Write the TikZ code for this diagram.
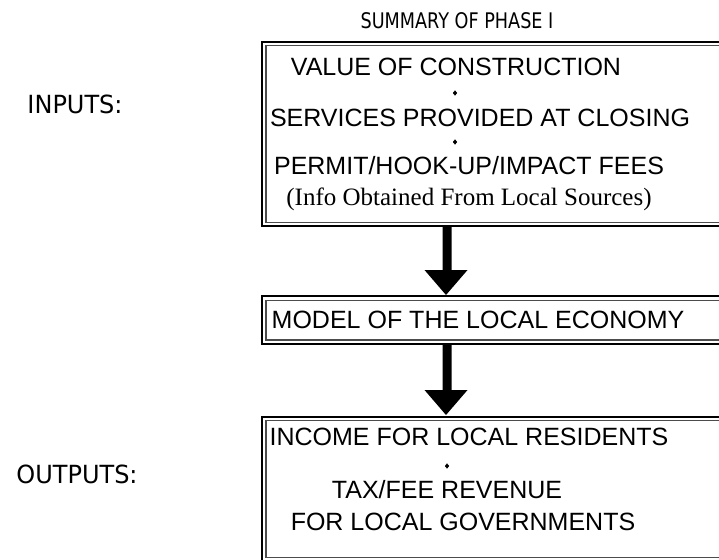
\documentclass[tikz,border=0pt]{standalone}
\usepackage{fontspec}
\setmainfont{Liberation Sans}
\newfontfamily\tahoma{DejaVu Sans}[FakeStretch=0.96]
\newfontfamily\tahomatitle{DejaVu Sans}[FakeStretch=0.82]
\newfontfamily\timesf{Liberation Serif}
\usetikzlibrary{shapes.geometric,calc}
\tikzset{
  boxtext/.style={inner sep=0pt, font=\fontsize{25}{28}\selectfont, anchor=center},
  sidetext/.style={inner sep=0pt, font=\tahoma\fontsize{25}{28}\selectfont, anchor=center},
  titletext/.style={inner sep=0pt, font=\tahomatitle\fontsize{21.5}{25}\selectfont, anchor=center},
  infotext/.style={inner sep=0pt, font=\timesf\fontsize{25}{28}\selectfont, anchor=center},
  dotmark/.style={diamond, fill=black, inner sep=0pt, minimum width=4.5pt, minimum height=5.5pt},
  outerline/.style={line width=1.8pt, black},
  innerline/.style={line width=1.1pt, black!70},
  bigarrow/.style={fill=black}
}
\begin{document}
\begin{tikzpicture}[x=1pt,y=-1pt]
\useasboundingbox (0,0) rectangle (719,559);
\clip (0,0) rectangle (719,559);
% top box
\draw[outerline] (800,41.7) -- (262,41.7) -- (262,226) -- (800,226);
\draw[innerline] (800,45.7) -- (266,45.7) -- (266,222.3) -- (800,222.3);
% middle box
\draw[outerline] (800,295.7) -- (262,295.7) -- (262,344) -- (800,344);
\draw[innerline] (800,300.7) -- (266,300.7) -- (266,340) -- (800,340);
% bottom box
\draw[outerline] (800,416.7) -- (262,416.7) -- (262,580);
\draw[innerline] (800,420.5) -- (266,420.5) -- (266,557.5) -- (800,557.5);

\node[titletext] (title) at (457,21) {SUMMARY OF PHASE I};
\node[sidetext] (inputs) at (75,104) {INPUTS:};
\node[sidetext] (outputs) at (77,474) {OUTPUTS:};

\node[boxtext] (v1) at (456,67) {VALUE OF CONSTRUCTION};
\node[dotmark] (d1) at (455,93) {};
\node[boxtext] (v2) at (480,118) {SERVICES PROVIDED AT CLOSING};
\node[dotmark] (d2) at (455,142) {};
\node[boxtext] (v3) at (469,166) {PERMIT/HOOK-UP/IMPACT FEES};
\node[infotext] (v4) at (469,199) {(Info Obtained From Local Sources)};

\node[boxtext] (m1) at (478,320) {MODEL OF THE LOCAL ECONOMY};

\node[boxtext] (o1) at (469,437) {INCOME FOR LOCAL RESIDENTS};
\node[dotmark] (d3) at (447,466) {};
\node[boxtext] (o2) at (447,490) {TAX/FEE REVENUE};
\node[boxtext] (o3) at (463,522) {FOR LOCAL GOVERNMENTS};

\coordinate (a1s) at (447,226);
\coordinate (a1t) at (446,295);
\coordinate (a2s) at (447,344);
\coordinate (a2t) at (446,415);
\fill[bigarrow] ($(a1s)+(-4.5,0)$) -- ($(a1s)+(4.5,0)$) -- ($(a1s)+(4.5,44)$) -- ($(a1t)+(21.5,-25)$) -- (a1t) -- ($(a1t)+(-21.5,-25)$) -- ($(a1s)+(-4.5,44)$) -- cycle;
\fill[bigarrow] ($(a2s)+(-4.5,0)$) -- ($(a2s)+(4.5,0)$) -- ($(a2s)+(4.5,46)$) -- ($(a2t)+(21.5,-25)$) -- (a2t) -- ($(a2t)+(-21.5,-25)$) -- ($(a2s)+(-4.5,46)$) -- cycle;
\end{tikzpicture}
\end{document}
